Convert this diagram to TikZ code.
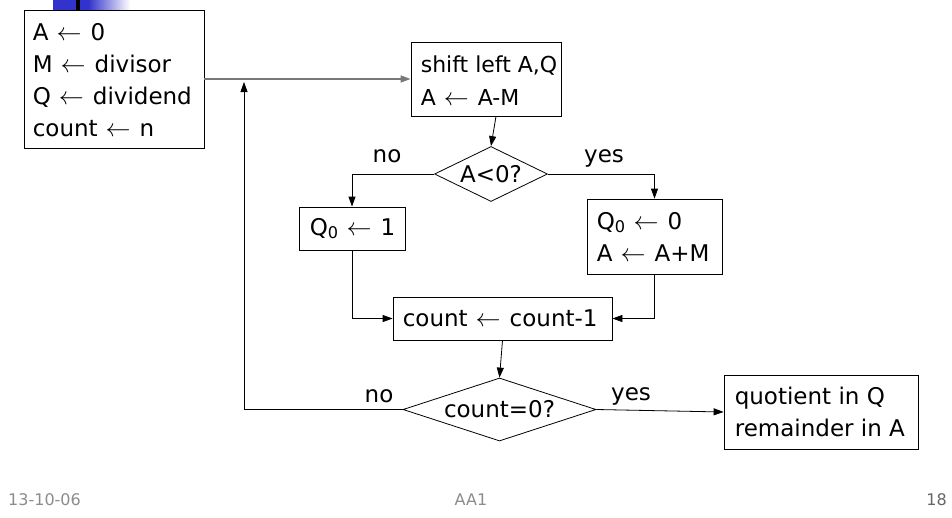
\documentclass[tikz,border=0pt]{standalone}
\usepackage{graphicx}
\usepackage{fontspec}
\setmainfont{DejaVu Sans}
\usetikzlibrary{arrows.meta,shapes.geometric}
\definecolor{slideblue}{RGB}{50,50,205}
\definecolor{footgray}{RGB}{140,140,140}
\definecolor{linegray}{RGB}{120,120,120}
\newcommand{\la}{\hspace{8pt}\resizebox{25pt}{!}{$\leftarrow$}\hspace{9pt}}
\begin{document}
\begin{tikzpicture}[x=1pt,y=-1pt,
  frame/.style={draw, line width=0.8pt, rectangle, inner sep=0pt},
  txt/.style={inner sep=0pt, align=left, anchor=west, font=\fontsize{23}{32}\selectfont},
  dia/.style={draw, line width=0.8pt, diamond, inner sep=0pt, font=\fontsize{23}{32}\selectfont},
  lbl/.style={font=\fontsize{23}{27}\selectfont, anchor=base, inner sep=0pt},
  arr/.style={line width=0.8pt, -{Triangle[length=10pt,width=7pt]}},
  foot/.style={font=\fontsize{16}{19}\selectfont, anchor=base, inner sep=0pt}]
\useasboundingbox[fill=white] (0,0) rectangle (952,517);
% slide decoration
\fill[slideblue] (53,0) rectangle (88,9.5);
\shade[left color=slideblue, right color=white] (88,0) rectangle (130,9.5);
\fill[black] (76,0) rectangle (80,10);
% boxes
\node[frame, minimum width=180pt, minimum height=138pt] (init) at (114,79) {};
\node[txt] (initT) at ([xshift=9pt,yshift=-1pt]init.west)
  {A\la{}0\\M\la{}divisor\\Q\la{}dividend\\count\la{}n};
\node[frame, minimum width=150pt, minimum height=74pt] (shift) at (486,79) {};
\node[txt, font=\fontsize{22}{33}\selectfont] (shiftT) at ([xshift=10pt,yshift=-2pt]shift.west)
  {shift left A,Q\\A\la{}A-M};
\node[dia, minimum width=113pt, minimum height=55pt, aspect=2.05] (d1) at (491,174) {A<0?};
\node[frame, minimum width=106pt, minimum height=43pt] (q1) at (352,228.5) {};
\node[txt] (q1T) at ([xshift=11pt]q1.west) {Q\textsubscript{0}\la{}1};
\node[frame, minimum width=135pt, minimum height=75pt] (q0) at (654.5,236.5) {};
\node[txt] (q0T) at ([xshift=10pt]q0.west) {Q\textsubscript{0}\la{}0\\A\la{}A+M};
\node[frame, minimum width=219pt, minimum height=43pt] (cnt) at (502.5,318.5) {};
\node[txt] (cntT) at ([xshift=10pt]cnt.west) {count\la{}count-1};
\node[dia, minimum width=193pt, minimum height=63pt, aspect=3.06] (d2) at (499.5,409.5) {count=0?};
\node[frame, minimum width=194pt, minimum height=74pt] (fin) at (821,412) {};
\node[txt] (finT) at ([xshift=11pt]fin.west) {quotient in Q\\remainder in A};
% labels
\node[lbl] (no1) at (387,162) {no};
\node[lbl] (yes1) at (604,162) {yes};
\node[lbl] (no2) at (379,402) {no};
\node[lbl] (yes2) at (631,400) {yes};
% connectors
\draw[arr, draw=linegray, line width=1.3pt] (init.east) -- (shift.west);
\draw[arr] ([xshift=10pt]shift.south) -- (d1.north);
\draw[arr] (d1.west) -| (q1.north);
\draw[arr] (d1.east) -| (q0.north);
\draw[arr] (q1.south) |- (cnt.west);
\draw[arr] (q0.south) |- (cnt.east);
\draw[arr] (cnt.south) -- (d2.north);
\coordinate (looptop) at (244,82);
\draw[arr] (d2.west) -| (looptop);
\draw[arr] (d2.east) -- (fin.west);
% footer
\node[foot, anchor=base west, text=footgray] (date) at (8,505) {13-10-06};
\node[foot, text=footgray] (title) at (471,505) {AA1};
\node[foot, anchor=base east, text=gray!80!black] (page) at (947,505) {18};
\end{tikzpicture}
\end{document}
